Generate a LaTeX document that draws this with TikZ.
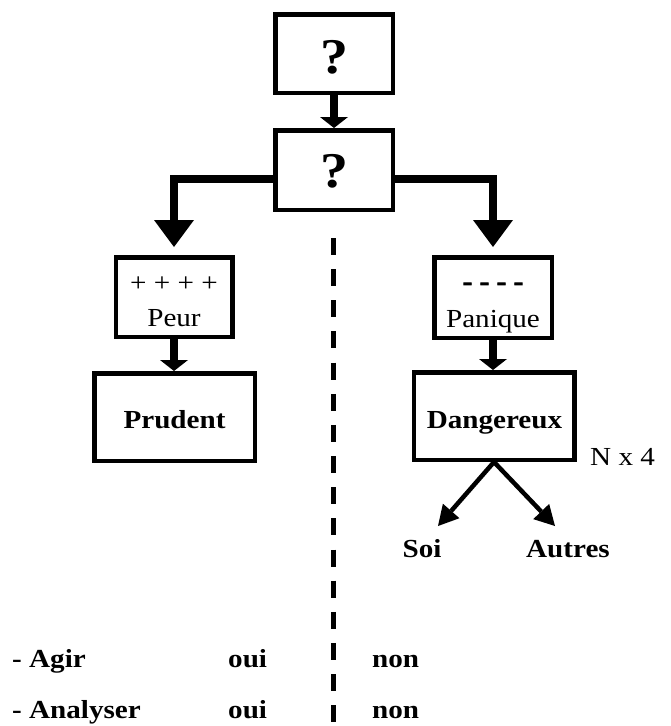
\documentclass[tikz,border=0pt]{standalone}
\usepackage{fontspec}
\setmainfont[FakeStretch=1.12]{Liberation Serif}
\newfontfamily\heavyfont[FakeStretch=1.12,FakeBold=2.5]{Liberation Serif Bold}
\usetikzlibrary{arrows.meta}
\begin{document}
\begin{tikzpicture}[x=1pt,y=-1pt,
  box/.style={draw,line width=4.5pt,inner sep=0pt},
  lbl/.style={inner sep=0pt,anchor=base},
  txt/.style={font=\fontsize{26}{30}\selectfont},
  btxt/.style={font=\bfseries\fontsize{26}{30}\selectfont},
  htxt/.style={font=\heavyfont\fontsize{26}{30}\selectfont},
  qmark/.style={font=\bfseries\fontsize{50}{50}\selectfont},
  bigarrow/.style={line width=8pt,line join=miter,
    -{Triangle[width=40pt,length=27pt,line width=0pt]}},
  smallarrow/.style={line width=7.5pt,
    -{Triangle[width=28pt,length=11pt,line width=0pt]}},
  diagarrow/.style={line width=4.5pt,
    -{Triangle[width=22pt,length=20pt,line width=0pt]}},
  divider/.style={line width=5pt,dash pattern=on 17pt off 14.15pt}]
\useasboundingbox (0,0) rectangle (670,726);

% boxes
\node[box,minimum width=117.5pt,minimum height=78.5pt] (q1) at (334,53.5) {};
\node[box,minimum width=117.5pt,minimum height=79.5pt] (q2) at (334,170) {};
\node[box,minimum width=116.5pt,minimum height=79.5pt] (peur) at (174,297) {};
\node[box,minimum width=117.5pt,minimum height=80.5pt] (pan) at (493,297.5) {};
\node[box,minimum width=160.5pt,minimum height=87.5pt] (prud) at (174.5,417) {};
\node[box,minimum width=160.5pt,minimum height=87.5pt] (dang) at (494,416) {};

% box texts
\node[lbl,qmark] (q1t) at (334,73) {?};
\node[lbl,qmark] (q2t) at (334,187) {?};
\node[lbl,txt] (plus) at (174,291) {+ + + +};
\node[lbl,txt] (peurt) at (174,326) {Peur};
\node[lbl,htxt] (minus) at (493,290) {- - - -};
\node[lbl,txt] (pant) at (493,327) {Panique};
\node[lbl,btxt] (prudt) at (174.5,428) {Prudent};
\node[lbl,btxt] (dangt) at (494.5,428) {Dangereux};
\node[lbl,txt,anchor=base west] (nx) at (590,465) {N x 4};
\node[lbl,btxt] (soi) at (422,557) {Soi};
\node[lbl,btxt] (autres) at (568,557) {Autres};

% table rows
\node[lbl,btxt,anchor=base west] (agir) at (12,667) {- Agir};
\node[lbl,btxt,anchor=base west] (oui1) at (228,667) {oui};
\node[lbl,btxt,anchor=base west] (non1) at (372,667) {non};
\node[lbl,btxt,anchor=base west] (analyser) at (12,718) {- Analyser};
\node[lbl,btxt,anchor=base west] (oui2) at (228,718) {oui};
\node[lbl,btxt,anchor=base west] (non2) at (372,718) {non};

% connectors
\draw[smallarrow] (q1.south) -- (q2.north);
\draw[bigarrow] ([yshift=-9pt]q2.west) -| ([yshift=8pt]peur.north);
\draw[bigarrow] ([yshift=-9pt]q2.east) -| ([yshift=8pt]pan.north);
\draw[smallarrow] (peur.south) -- (peur.south |- prud.north);
\draw[smallarrow] (pan.south) -- (pan.south |- dang.north);

\coordinate (soitip) at (438,526);
\coordinate (autrestip) at (555,526);
\draw[diagarrow] (dang.south) -- (soitip);
\draw[diagarrow] (dang.south) -- (autrestip);

% dividing line
\coordinate (dtop) at (333.5,238);
\coordinate (dbot) at (333.5,730);
\draw[divider] (dtop) -- (dbot);
\end{tikzpicture}
\end{document}
